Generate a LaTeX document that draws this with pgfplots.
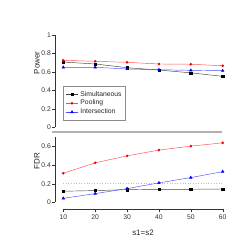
\documentclass[border=0pt]{standalone}
\usepackage{fontspec}
\setmainfont{Liberation Sans}
\usepackage{pgfplots}
\pgfplotsset{compat=1.18}
\begin{document}
\begin{tikzpicture}[x=1bp,y=1bp]
\useasboundingbox (0,0) rectangle (245,245);
\pgfplotsset{
  rstyle/.style={
    scale only axis, clip=false,
    xmin=7.396, xmax=60,
    width=167.7bp,
    axis line style={draw=none},
    tick align=outside,
    major tick length=3bp,
    tick style={black!80, line width=0.4bp},
    /pgf/number format/assume math mode=true,
    ticklabel style={font=\fontsize{6.8}{8}\selectfont, text=black!80},
    yticklabel style={inner sep=1bp},
    xticklabel style={inner sep=1bp},
  },
  every axis plot/.append style={line width=0.45bp},
}
% ---------- top panel ----------
\begin{axis}[rstyle,
  at={(55bp,117.7bp)}, anchor=south west,
  height=92.3bp,
  ymin=0, ymax=1,
  axis x line=none,
  axis y line*=left,
  ytick={0,0.2,0.4,0.6,0.8,1},
  yticklabels={0,0.2,0.4,0.6,0.8,1},
  legend style={at={(0.0495,0.447)}, anchor=north west,
    draw=black!45, line width=0.5bp,
    font=\fontsize{6.8}{8}\selectfont,
    inner xsep=2bp, inner ysep=3bp, row sep=-1.6bp,
    text=black!85},
  legend cell align=left,
  legend image code/.code={\draw[mark repeat=2,mark phase=2] plot coordinates {(0cm,0cm) (0.22cm,0cm) (0.44cm,0cm)};},
]
\draw[black!80, line width=0.45bp] (axis cs:7.396,0) -- (axis cs:7.396,1);
\draw[black!30, line width=2bp] (axis cs:6.45,-0.054) -- (axis cs:59.8,-0.054);
\addplot[black!75, mark=square*, mark size=1.1bp, mark options={black}] coordinates {
 (10,0.707) (20,0.686) (30,0.646) (40,0.620) (50,0.590) (60,0.552)};
\addlegendentry{Simultaneous}
\addplot[red!70, mark=*, mark size=1.1bp, mark options={red, draw=red}] coordinates {
 (10,0.726) (20,0.715) (30,0.704) (40,0.686) (50,0.683) (60,0.667)};
\addlegendentry{Pooling}
\addplot[blue!70, mark=triangle*, mark size=1.5bp, mark options={blue}] coordinates {
 (10,0.650) (20,0.650) (30,0.632) (40,0.624) (50,0.617) (60,0.613)};
\addlegendentry{Intersection}
\end{axis}
% ---------- bottom panel ----------
\begin{axis}[rstyle,
  at={(55bp,35.7bp)}, anchor=south west,
  height=72bp,
  ymin=-0.0757, ymax=0.70,
  axis x line*=bottom,
  axis y line*=left,
  xtick={10,20,30,40,50,60},
  xticklabels={10,20,30,40,50,60},
  ytick={0,0.2,0.4,0.6},
  yticklabels={0,0.2,0.4,0.6},
  xticklabel style={yshift=-1.5bp},
]
\draw[black!80, line width=0.45bp] (axis cs:7.396,0) -- (axis cs:7.396,0.70);
\draw[black!80, line width=0.45bp] (axis cs:10,-0.0757) -- (axis cs:60,-0.0757);
\draw[black!25, dotted, line width=0.6bp] (axis cs:10,0.2) -- (axis cs:60,0.2);
\addplot[black!75, mark=square*, mark size=1.1bp, mark options={black}] coordinates {
 (10,0.119) (20,0.126) (30,0.136) (40,0.140) (50,0.140) (60,0.143)};
\addplot[red!70, mark=*, mark size=1.1bp, mark options={red, draw=red}] coordinates {
 (10,0.313) (20,0.425) (30,0.500) (40,0.562) (50,0.605) (60,0.640)};
\addplot[blue!70, mark=triangle*, mark size=1.5bp, mark options={blue}] coordinates {
 (10,0.043) (20,0.093) (30,0.147) (40,0.209) (50,0.266) (60,0.330)};
\end{axis}
\node[rotate=90, font=\fontsize{8}{9.6}\selectfont, text=black!85] at (37,182) {Power};
\node[rotate=90, font=\fontsize{8}{9.6}\selectfont, text=black!85] at (37,84) {FDR};
\node[font=\fontsize{8}{9.6}\selectfont, text=black!85] at (143,12) {s1=s2};
\end{tikzpicture}
\end{document}
